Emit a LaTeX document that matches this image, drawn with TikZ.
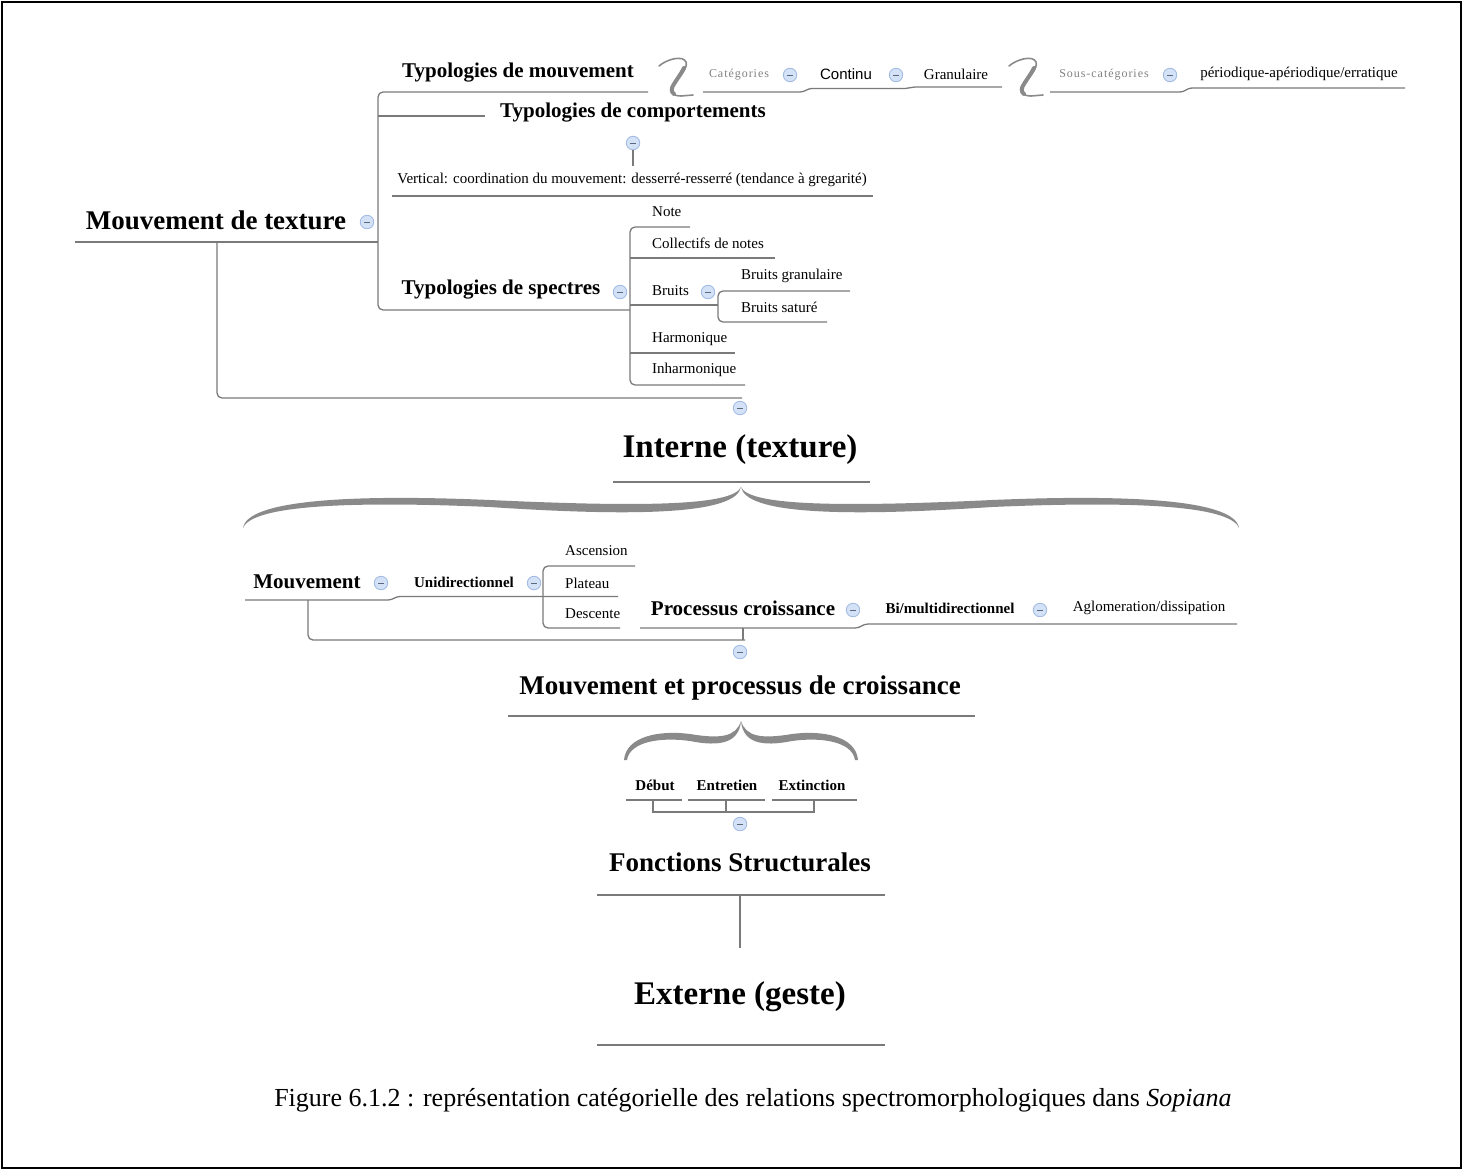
\documentclass[tikz,border=0pt]{standalone}
\usepackage{fontspec}
\setmainfont{Liberation Serif}
\newfontfamily\sansf{Liberation Sans}
\usetikzlibrary{calc}
\definecolor{lg}{HTML}{7A7A7A}
\definecolor{cfill}{HTML}{D3E2F6}
\definecolor{cdraw}{HTML}{A4BCE2}
\definecolor{bracegray}{HTML}{8A8A8A}
\definecolor{greytxt}{HTML}{808080}
\begin{document}
\begin{tikzpicture}[x=1pt,y=-1pt,
  conn/.style={draw=lg, line width=1.3pt, rounded corners=5pt},
  plainconn/.style={draw=lg, line width=1.3pt},
  tb/.style={font=\bfseries\fontsize{#1}{#1}\selectfont, inner sep=0pt},
  tr/.style={font=\fontsize{#1}{#1}\selectfont, inner sep=0pt},
  tl/.style={font=\fontsize{#1}{#1}\selectfont, inner sep=0pt, anchor=west},
  tgrey/.style={font=\fontsize{12}{12}\selectfont\addfontfeature{LetterSpace=8}, text=greytxt, inner sep=0pt},
  collapse/.style={circle, minimum size=13.5pt, inner sep=0pt, fill=cfill, draw=cdraw, line width=0.9pt,
    path picture={\draw[cdraw!55!black, line width=0.8pt] ([xshift=-3pt]path picture bounding box.center) -- ([xshift=3pt]path picture bounding box.center);}},
  squigthin/.style={draw=bracegray, line width=1.6pt, line cap=round},
  squigthick/.style={draw=bracegray, line width=4pt, line cap=round},
]
\useasboundingbox (0,0) rectangle (1463,1170);
\draw[line width=2pt] (2,2) rectangle (1461,1168);

% ---------------- top part ----------------
\node[tb=27] (mdt) at (216,220) {Mouvement de texture};
\node[collapse] (cmdt) at (367,222) {};
\node[tb=21] (tmv) at (518,73) {Typologies de mouvement};
\node[tb=21] (tcomp) at (633,113) {Typologies de comportements};
\node[collapse] (ccomp) at (633,143) {};
\node[tr=15] (vert) at (632,180) {Vertical: coordination du mouvement: desserré-resserré (tendance à gregarité)};
\node[tb=21] (tspec) at (501,290) {Typologies de spectres};
\node[collapse] (cspec) at (620,292) {};

% categories row
\node[tgrey] (cat) at (739,75) {Catégories};
\node[collapse] (ccat) at (790,75) {};
\node[font=\sansf\fontsize{15}{15}\selectfont, inner sep=0pt] (cont) at (846,74) {Continu};
\node[collapse] (ccont) at (896,75) {};
\node[tr=15] (gran) at (956,74) {Granulaire};
\node[tgrey] (scat) at (1104,75) {Sous-catégories};
\node[collapse] (cscat) at (1170,75) {};
\node[tr=15] (peri) at (1299,74) {périodique-apériodique/erratique};

% squiggles
\foreach \dx in {0,350}{
  \begin{scope}[xshift=\dx]
  \draw[squigthin] (659,66) .. controls (667,59) and (683,55) .. (686,62) .. controls (688,68) and (680,76) .. (674,84) .. controls (669,91) and (672,96) .. (681,96) -- (693,95);
  \draw[squigthick] (684,68) .. controls (681,74) and (677,79) .. (674,84) .. controls (671,88) and (671,92) .. (674,94);
  \end{scope}
}

% spectres children
\node[tl=15] (note) at (652,212) {Note};
\node[tl=15] (coll) at (652,243) {Collectifs de notes};
\node[tl=15] (bruits) at (652,291) {Bruits};
\node[collapse] (cbruits) at (708,292) {};
\node[tl=15] (bgran) at (741,276) {Bruits granulaire};
\node[tl=15] (bsat) at (741,307) {Bruits saturé};
\node[tl=15] (harm) at (652,339) {Harmonique};
\node[tl=15] (inharm) at (652,370) {Inharmonique};

% coordinates for top connectors
\coordinate (mdtL) at (75,242);
\coordinate (mdtR) at (378,242);
\coordinate (tmvR) at (648,92);
\coordinate (tmvL) at (378,92);
\coordinate (tspL) at (378,310);
\coordinate (tspR) at (630,310);
\coordinate (compL) at (378,116);
\coordinate (compR) at (485,116);
\coordinate (ccompS) at (633,166);
\coordinate (vertL) at (392,196);
\coordinate (vertR) at (873,196);

\draw[conn] (mdtL) -- (mdtR);
\draw[conn] (tmvR) -- (tmvL) -- (tspL) -- (tspR);
\draw[conn] (compL) -- (compR);
\draw[plainconn] (ccomp.south) -- (ccompS);
\draw[conn] (vertL) -- (vertR);

% categories underline
\coordinate (catL) at (703,92);
\coordinate (catR) at (1002,87);
\draw[plainconn] (catL) -- (800,92) to[out=0,in=180] (812,88.5) -- (905,88.5) to[out=0,in=180] (915,87) -- (catR);
\coordinate (scatL) at (1050,92);
\coordinate (scatR) at (1405,88);
\draw[plainconn] (scatL) -- (1180,92) to[out=0,in=180] (1192,88) -- (scatR);

% spectres tree
\draw[conn] (690,227) -- (630,227) -- (630,385) -- (745,385);
\draw[conn] (630,258) -- (775,258);
\draw[conn] (630,305) -- (718,305);
\draw[conn] (850,291) -- (718,291) -- (718,322) -- (827,322);
\draw[conn] (630,353) -- (735,353);

% link to Interne
\coordinate (intTop) at (742,398);
\draw[conn] (217,242) -- (217,398) -- (intTop);
\node[collapse] (cint) at (740,408) {};
\node[tb=33] (interne) at (740,450) {Interne (texture)};
\draw[conn] (613,482) -- (870,482);

% big brace
\fill[bracegray] (243,528) .. controls (247,500) and (350,494) .. (490,500) .. controls (640,507) and (733,506) .. (741,487)
  .. controls (736,514) and (640,517) .. (490,507) .. controls (352,501) and (252,505) .. (243,528) -- cycle;
\fill[bracegray] (1239,528) .. controls (1235,500) and (1132,494) .. (992,500) .. controls (842,507) and (749,506) .. (741,487)
  .. controls (746,514) and (842,517) .. (992,507) .. controls (1130,501) and (1230,505) .. (1239,528) -- cycle;

% ---------------- middle part ----------------
\node[tb=21] (mouv) at (307,582) {Mouvement};
\node[collapse] (cmouv) at (381,583) {};
\node[tb=15] (unid) at (464,582) {Unidirectionnel};
\node[collapse] (cunid) at (534,583) {};
\node[tl=15] (asc) at (565,551) {Ascension};
\node[tl=15] (plat) at (565,583) {Plateau};
\node[tl=15] (desc) at (565,614) {Descente};

\draw[plainconn] (245,600) -- (388,600) to[out=0,in=180] (400,596.5) -- (618,596.5);
\draw[conn] (635,566) -- (543,566) -- (543,628) -- (620,628);

\node[tb=21] (proc) at (743,608) {Processus croissance};
\node[collapse] (cproc) at (853,610) {};
\node[tb=15] (bimu) at (950,608) {Bi/multidirectionnel};
\node[collapse] (cbimu) at (1040,610) {};
\node[tr=15] (aglo) at (1149,608) {Aglomeration/dissipation};
\draw[plainconn] (640,628) -- (855,628) to[out=0,in=180] (868,624) -- (1237,624);

\coordinate (mpTop) at (745,640);
\draw[conn] (308,600) -- (308,640) -- (mpTop);
\draw[plainconn] (743,628) -- (743,640);
\node[collapse] (cmp) at (740,652) {};
\node[tb=27] (mpc) at (740,688) {Mouvement et processus de croissance};
\draw[conn] (508,716) -- (975,716);

% small brace
\fill[bracegray] (624,760) .. controls (626,736) and (660,730) .. (690,734) .. controls (720,739) and (736,737) .. (741,721)
  .. controls (739,743) and (720,747) .. (690,741) .. controls (662,737) and (630,741) .. (627,760) -- cycle;
\fill[bracegray] (858,760) .. controls (856,736) and (822,730) .. (792,734) .. controls (762,739) and (746,737) .. (741,721)
  .. controls (743,743) and (762,747) .. (792,741) .. controls (820,737) and (852,741) .. (855,760) -- cycle;

% ---------------- lower part ----------------
\node[tb=15] (debut) at (655,785) {Début};
\node[tb=15] (entr) at (727,785) {Entretien};
\node[tb=15] (ext) at (812,785) {Extinction};
\draw[conn] (626,800) -- (682,800);
\draw[conn] (688,800) -- (765,800);
\draw[conn] (772,800) -- (857,800);
\draw[plainconn] (653,800) -- (653,812) -- (814,812) -- (814,800);
\draw[plainconn] (726,800) -- (726,812);
\node[collapse] (cfs) at (740,824) {};

\node[tb=27] (fs) at (740,862) {Fonctions Structurales};
\coordinate (fsU) at (740,895);
\coordinate (extTop) at (740,948);
\draw[conn] (597,895) -- (885,895);
\draw[plainconn] (fsU) -- (extTop);
\node[tb=33] (externe) at (740,997) {Externe (geste)};
\draw[conn] (597,1045) -- (885,1045);

\node[tr=26] (caption) at (753,1100) {Figure 6.1.2 : représentation catégorielle des relations spectromorphologiques dans \textit{Sopiana}};
\end{tikzpicture}
\end{document}
